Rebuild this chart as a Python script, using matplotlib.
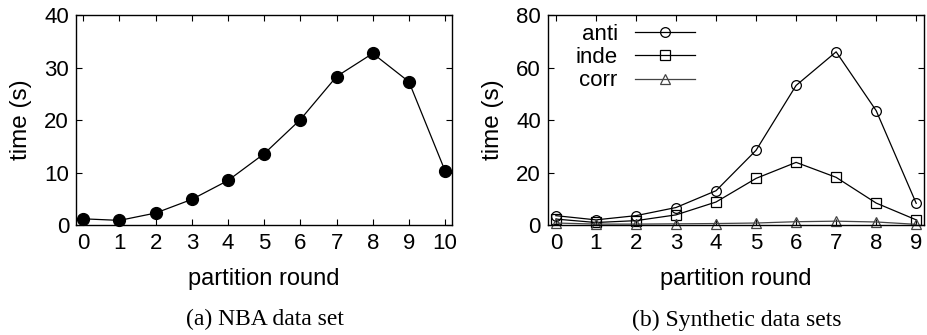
import matplotlib
matplotlib.use("Agg")
import matplotlib.pyplot as plt

# NBA data set
nba_rounds = [0, 1, 2, 3, 4, 5, 6, 7, 8, 9, 10]
nba_time = [1.2, 0.9, 2.3, 4.9, 8.5, 13.6, 20.1, 28.3, 32.7, 27.3, 10.3]

# synthetic data sets
syn_rounds = [0, 1, 2, 3, 4, 5, 6, 7, 8, 9]
anti_time = [3.6, 2.0, 3.6, 6.7, 13.1, 28.5, 53.2, 66.0, 43.6, 8.3]
inde_time = [2.3, 1.0, 1.7, 3.9, 8.8, 17.8, 23.9, 18.2, 8.4, 2.0]
corr_time = [0.8, 0.4, 0.4, 0.5, 0.6, 0.8, 1.3, 1.5, 1.2, 0.3]

plt.rcParams["font.family"] = ["Liberation Sans", "DejaVu Sans"]
plt.rcParams["font.size"] = 16

fig = plt.figure(figsize=(9.27, 3.35), dpi=100)
ax1 = fig.add_axes([0.082, 0.328, 0.406, 0.627])
ax2 = fig.add_axes([0.591, 0.328, 0.406, 0.627])


def style_axes(ax):
    ax.tick_params(direction="in", length=4, width=0.8, top=True, right=True,
                   labelsize=16)
    ax.tick_params(axis="x", pad=6)
    ax.tick_params(axis="y", pad=5)
    for s in ax.spines.values():
        s.set_linewidth(1.0)
    ax.set_xlabel("partition round", fontsize=17, labelpad=10)
    ax.set_ylabel("time (s)", fontsize=17.5, labelpad=9)


ax1.plot(nba_rounds, nba_time, "-", color="black", lw=0.9,
         marker="o", markersize=8.5, markerfacecolor="black", clip_on=False)
ax1.set_xlim(-0.2, 10.2)
ax1.set_ylim(0, 40)
ax1.set_xticks(nba_rounds)
ax1.set_yticks([0, 10, 20, 30, 40])
style_axes(ax1)

ax2.plot(syn_rounds, anti_time, "-", color="black", lw=0.9, marker="o",
         markersize=7, markerfacecolor="none", markeredgewidth=0.9,
         label="anti", clip_on=False)
ax2.plot(syn_rounds, inde_time, "-", color="black", lw=0.9, marker="s",
         markersize=7, markerfacecolor="none", markeredgewidth=0.9,
         label="inde", clip_on=False)
ax2.plot(syn_rounds, corr_time, "-", color="#444444", lw=0.9, marker="^",
         markersize=7, markerfacecolor="none", markeredgewidth=0.9,
         label="corr", clip_on=False)
ax2.set_xlim(-0.2, 9.2)
ax2.set_ylim(0, 80)
ax2.set_xticks(syn_rounds)
ax2.set_yticks([0, 20, 40, 60, 80])
style_axes(ax2)

leg = ax2.legend(loc="upper left", bbox_to_anchor=(0.05, 1.0), frameon=False,
                 markerfirst=False, handlelength=2.7, handletextpad=0.8,
                 labelspacing=0.1, fontsize=16, borderaxespad=0)

fig.text(0.286, 0.045, "(a) NBA data set", ha="center", va="center",
         family=["Liberation Serif", "DejaVu Serif"], fontsize=17)
fig.text(0.795, 0.045, "(b) Synthetic data sets", ha="center", va="center",
         family=["Liberation Serif", "DejaVu Serif"], fontsize=17)

fig.savefig("out.png", dpi=100)
